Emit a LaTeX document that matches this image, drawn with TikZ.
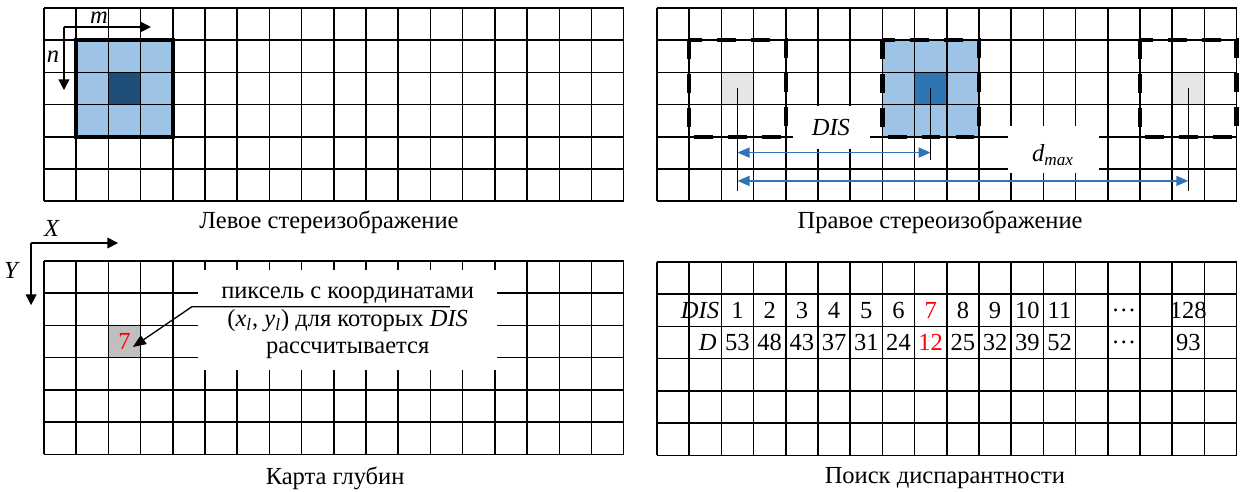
\documentclass[tikz,border=0pt]{standalone}
\usepackage{fontspec}
\setmainfont{Liberation Serif}
\usepackage{tikz}
\usetikzlibrary{arrows.meta}

\definecolor{winblue}{HTML}{9DC3E6}
\definecolor{navyblue}{HTML}{1F4E79}
\definecolor{steelblue}{HTML}{2E75B6}
\definecolor{palegray}{HTML}{E7E6E6}
\definecolor{pixgray}{HTML}{BFBFBF}

\begin{document}
\begin{tikzpicture}[x=0.6cm, y=-0.6cm,
        font=\fontsize{13}{14.6}\selectfont,
        gridline/.style={line width=0.8pt},
        winframe/.style={line width=2.4pt},
        dashframe/.style={line width=2.4pt, dash pattern=on 10pt off 8pt},
        axisarrow/.style={line width=0.8pt, -{Triangle[length=5.7pt, width=5.7pt]}},
        pointer/.style={line width=0.7pt, -{Triangle[length=7pt, width=5.5pt]}},
        disarrow/.style={steelblue, line width=0.9pt, {Triangle[length=6.4pt, width=5.3pt]}-{Triangle[length=6.4pt, width=5.3pt]}},
        blank/.style={fill=white, draw=none}]

    \useasboundingbox (0,0) rectangle (38.66,15.25);

    % Left stereo image
    \begin{scope}[shift={(1.366,0.248)}]
        \fill[winblue] (1,1) rectangle (4,4);
        \fill[navyblue] (2,2) rectangle (3,3);
        \foreach \i in {0,...,18} \draw[gridline] (\i,0) -- (\i,6);
        \foreach \j in {0,...,6} \draw[gridline] (0,\j) -- (18,\j);
        \draw[winframe] (1,1) rectangle (4,4);

        % window axes
        \coordinate (mn) at (0.62,0.59);
        \coordinate (mend) at (3.32,0.59);
        \coordinate (nend) at (0.62,2.55);
        \draw[axisarrow] (mn) -- (mend);
        \draw[axisarrow] (mn) -- (nend);
        \node (mlab) at (1.71,0.3) {\textit{m}};
        \node (nlab) at (0.28,1.52) {\textit{n}};

        \node (lcap) at (8.85,6.65) {Левое стереизображение};
    \end{scope}

    % Right stereo image
    \begin{scope}[shift={(20.40,0.248)}]
        \fill[winblue] (7,1) rectangle (10,4);
        \fill[steelblue] (8,2) rectangle (9,3);
        \fill[palegray] (2,2) rectangle (3,3);
        \fill[palegray] (16,2) rectangle (17,3);
        \foreach \i in {0,...,18} \draw[gridline] (\i,0) -- (\i,6);
        \foreach \j in {0,...,6} \draw[gridline] (0,\j) -- (18,\j);
        \fill[blank] (4.22,3.05) rectangle (6.6,4.38);
        \fill[blank] (10.9,3.66) rectangle (13.73,5.12);
        \foreach \a in {1,7,15} \draw[dashframe] (\a,1) rectangle (\a+3,4);

        % pixel centres and disparity
        \coordinate (lpix) at (2.5,2.5);
        \coordinate (wpix) at (8.5,2.5);
        \coordinate (rpix) at (16.5,2.5);
        \coordinate (lfoot) at (2.5,5.68);
        \coordinate (wfoot) at (8.5,4.72);
        \coordinate (rfoot) at (16.5,5.68);
        \draw[line width=0.6pt] (lpix) -- (lfoot);
        \draw[line width=0.6pt] (wpix) -- (wfoot);
        \draw[line width=0.6pt] (rpix) -- (rfoot);

        \coordinate (disl) at (2.5,4.49);
        \coordinate (disr) at (8.5,4.49);
        \coordinate (dmaxl) at (2.5,5.37);
        \coordinate (dmaxr) at (16.5,5.37);
        \draw[disarrow] (disl) -- (disr);
        \draw[disarrow] (dmaxl) -- (dmaxr);
        \node (dis) at (5.4,3.72) {\textit{DIS}};
        \node (dmax) at (12.3,4.57) {\textit{d\textsubscript{max}}};

        \node (rcap) at (8.79,6.65) {Правое стереоизображение};
    \end{scope}

    % Depth map
    \begin{scope}[shift={(1.366,8.106)}]
        \fill[pixgray] (2,2) rectangle (3,3);
        \foreach \i in {0,...,18} \draw[gridline] (\i,0) -- (\i,6);
        \foreach \j in {0,...,6} \draw[gridline] (0,\j) -- (18,\j);
        \fill[blank] (4.78,0.28) rectangle (14.07,3.39);

        % image axes
        \coordinate (xy) at (-0.4,-0.56);
        \coordinate (xend) at (2.3,-0.56);
        \coordinate (yend) at (-0.4,1.37);
        \draw[axisarrow] (xy) -- (xend);
        \draw[axisarrow] (xy) -- (yend);
        \node (xlab) at (0.25,-1.02) {\textit{X}};
        \node (ylab) at (-0.99,0.28) {\textit{Y}};

        \node[red] (pix) at (2.5,2.5) {7};
        \node[align=center] (note) at (9.43,1.92)
            {пиксель с координатами\\(\textit{x\textsubscript{l}}, \textit{y\textsubscript{l}}) для которых \textit{DIS}\\рассчитывается};
        \coordinate (kneer) at (12.6,1.42);
        \coordinate (kneel) at (4.59,1.42);
        \coordinate (pixtip) at (2.76,2.67);
        \draw[pointer] (kneer) -- (kneel) -- (pixtip);

        \node (dcap) at (9.04,6.74) {Карта глубин};
    \end{scope}

    % Disparity search
    \begin{scope}[shift={(20.40,8.137)}]
        \foreach \i in {0,...,18} \draw[gridline] (\i,0) -- (\i,6);
        \foreach \j in {0,...,6} \draw[gridline] (0,\j) -- (18,\j);

        \node[anchor=east, inner sep=1pt] (dishead) at (2,1.5) {\textit{DIS}};
        \node[anchor=east, inner sep=1pt] (dhead) at (1.92,2.5) {\textit{D}};
        \foreach \d/\v/\col [count=\c from 2] in {1/53/black, 2/48/black, 3/43/black,
                4/37/black, 5/31/black, 6/24/black, 7/12/red, 8/25/black,
                9/32/black, 10/39/black, 11/52/black} {
            \node[text=\col] (dis\c) at (\c+0.5,1.5) {\d};
            \node[text=\col] (d\c) at (\c+0.5,2.5) {\v};
        }
        \node (disdots) at (14.5,1.5) {…};
        \node (ddots) at (14.5,2.5) {…};
        \node (dislast) at (16.5,1.5) {128};
        \node (dlast) at (16.5,2.5) {93};

        \node (scap) at (8.94,6.71) {Поиск диспарантности};
    \end{scope}
\end{tikzpicture}
\end{document}
